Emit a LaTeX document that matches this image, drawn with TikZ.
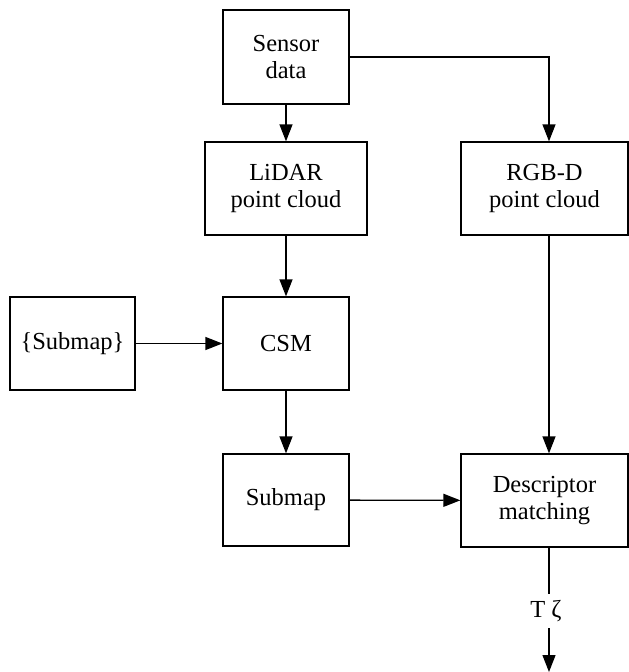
\documentclass[tikz,border=0pt]{standalone}
\usepackage{fontspec}
\setmainfont{Liberation Serif}
\usetikzlibrary{arrows.meta,calc}
\begin{document}
\begin{tikzpicture}[x=1pt,y=-1pt,
  txt/.style={font=\fontsize{24.5}{27.5}\selectfont},
  box/.style={txt,draw,line width=1.3pt,align=center,inner sep=0pt},
  link/.style={line width=1.3pt,-{Triangle[length=17pt,width=13pt]}}]
\useasboundingbox (0,0) rectangle (629,672);
% boxes
\node[box,minimum width=126pt,minimum height=94pt] (sensor) at (286,57) {Sensor\\data};
\node[box,minimum width=162pt,minimum height=93pt] (lidar) at (286,188.5) {LiDAR\\point cloud};
\node[box,minimum width=167pt,minimum height=93pt] (rgbd) at (544.5,188.5) {RGB-D\\point cloud};
\node[box,minimum width=125pt,minimum height=93pt] (subset) at (72.5,343.5) {\{Submap\}};
\node[box,minimum width=126pt,minimum height=93pt] (csm) at (286,343.5) {CSM};
\node[box,minimum width=126pt,minimum height=92pt] (submap) at (286,500) {Submap};
\node[box,minimum width=167pt,minimum height=93pt] (desc) at (544.5,500.5) {Descriptor\\matching};
% right-hand column and output
\coordinate (rcol) at (549,0);
\coordinate (out) at (549,672);
\node[txt,inner sep=0pt,minimum height=34pt] (pose) at (546,611) {T ζ};
% connectors
\draw[link] (sensor) -- (lidar);
\draw[link] (sensor.east) -| (rgbd.north -| rcol);
\draw[link] (lidar) -- (csm);
\draw[link] (subset) -- (csm);
\draw[link] (csm) -- (submap);
\draw[link] (submap) -- (desc);
\draw[link] (rgbd.south -| rcol) -- (desc.north -| rcol);
\draw[line width=1.3pt] (desc.south -| rcol) -- (pose.north -| rcol);
\draw[link] (pose.south -| rcol) -- (out);
\end{tikzpicture}
\end{document}
